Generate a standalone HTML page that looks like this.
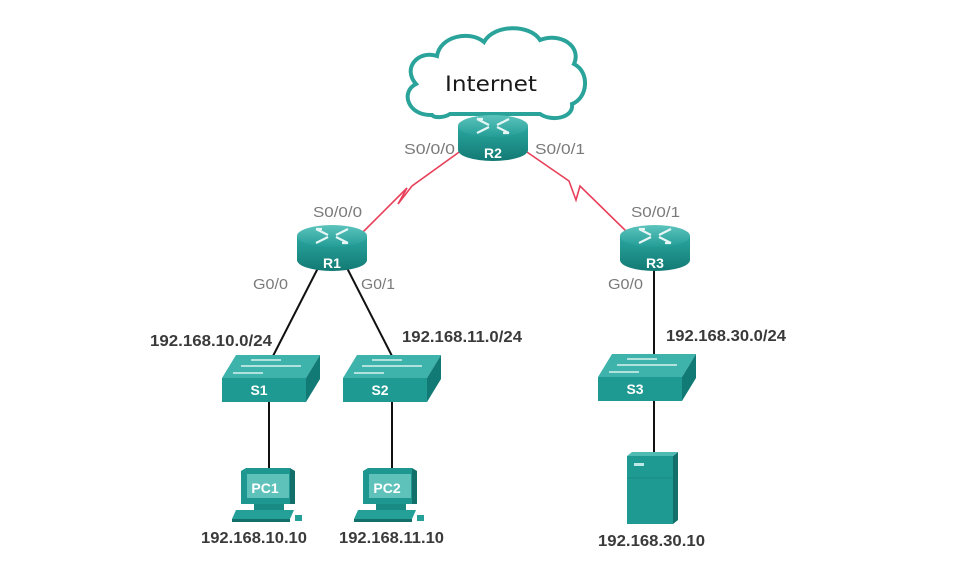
<!DOCTYPE html>
<html><head><meta charset="utf-8"><style>
html,body{margin:0;padding:0;background:#fff}
svg{display:block}
text{font-family:"Liberation Sans",sans-serif}
.g{fill:#7a7a7a;font-size:15px}
.b{fill:#3a3a3a;font-size:15.5px;font-weight:bold}
.w{fill:#fff;font-size:14px;font-weight:bold}
</style></head><body>
<svg width="975" height="563" viewBox="0 0 975 563" xmlns="http://www.w3.org/2000/svg">
<defs>
<linearGradient id="rt" x1="0" y1="0" x2="0" y2="1"><stop offset="0" stop-color="#2aa7a0"/><stop offset="1" stop-color="#137a74"/></linearGradient>
<linearGradient id="rtop" x1="0" y1="0" x2="0" y2="1"><stop offset="0" stop-color="#5cc4bd"/><stop offset="1" stop-color="#239d96"/></linearGradient>
<g id="router">
<path d="M-35,-12 L-35,12 A35,11 0 0 0 35,12 L35,-12 Z" fill="url(#rt)"/>
<ellipse cx="0" cy="-12" rx="35" ry="11" fill="url(#rtop)"/>
<g stroke="#e6f6f5" stroke-width="2.2" fill="none">
<path d="M-16,-19 L-4,-13 M-16,-19 l6,0 M16,-5 L4,-11 M16,-5 l-6,0 M-16,-5 L-4,-11 M16,-19 L4,-13"/>
</g>
</g>
<g id="switch">
<path d="M-49,0 L-35,-23 L49,-23 L35,0 Z" fill="#3db3ab"/>
<path d="M35,0 L49,-23 L49,1 L35,24 Z" fill="#127a74"/>
<rect x="-49" y="0" width="84" height="24" fill="#1f9a93"/>
<g stroke="#d8f2f0" stroke-width="1.6"><line x1="-20" y1="-18" x2="10" y2="-18"/><line x1="-30" y1="-12" x2="0" y2="-12"/><line x1="0" y1="-12" x2="30" y2="-12"/><line x1="-38" y1="-5" x2="-8" y2="-5"/></g>
</g>
<g id="pc">
<path d="M-27,0 L-22,-3 L22,-3 L22,33 L-27,33 Z" fill="#1e9790"/>
<path d="M22,-3 L27,0 L27,33 L22,33 Z" fill="#126f6a"/>
<rect x="-21" y="3" width="42" height="24" fill="#5ec2bb"/>
<rect x="-14" y="33" width="30" height="6" fill="#1a8a84"/>
<path d="M-32,39 L26,39 L22,48 L-36,48 Z" fill="#24a098"/>
<path d="M-36,48 L22,48 L22,51 L-36,51 Z" fill="#126f6a"/>
<rect x="27" y="44" width="7" height="6" fill="#24a098"/>
</g>
</defs>

<!-- cloud -->
<path d="M432,115 C408,116 400,92 416,84 C402,68 418,50 437,56 C440,36 470,30 484,42 C494,24 530,24 540,40 C560,32 582,46 574,64 C590,72 588,98 572,104 C574,118 552,122 540,114 L450,114 C444,118 434,118 432,115 Z" fill="#fff" stroke="#2aa39a" stroke-width="4"/>
<text x="445" y="91" font-size="21" fill="#1a1a1a" textLength="92" lengthAdjust="spacingAndGlyphs" style="font-family:'DejaVu Sans',sans-serif">Internet</text>

<!-- red serial links -->
<g stroke="#e8405a" stroke-width="1.6" fill="none">
<polyline points="462,150 412,186 398,204 407,188 363,232"/>
<polyline points="524,150 569,181 576,200 580,186 628,233"/>
</g>
<!-- black links -->
<g stroke="#111" stroke-width="2">
<line x1="318" y1="268" x2="273" y2="356"/>
<line x1="347" y1="268" x2="392" y2="356"/>
<line x1="269" y1="400" x2="269" y2="468"/>
<line x1="392" y1="400" x2="392" y2="468"/>
<line x1="654" y1="268" x2="654" y2="356"/>
<line x1="654" y1="400" x2="654" y2="456"/>
</g>

<use href="#router" x="493" y="138"/>
<text class="w" x="493" y="158" text-anchor="middle">R2</text>
<use href="#router" x="332" y="248"/>
<text class="w" x="332" y="268" text-anchor="middle">R1</text>
<use href="#router" x="655" y="248"/>
<text class="w" x="655" y="268" text-anchor="middle">R3</text>

<use href="#switch" x="271" y="378"/>
<text class="w" x="259" y="395" text-anchor="middle">S1</text>
<use href="#switch" x="392" y="378"/>
<text class="w" x="380" y="395" text-anchor="middle">S2</text>
<use href="#switch" x="647" y="377"/>
<text class="w" x="635" y="394" text-anchor="middle">S3</text>

<use href="#pc" x="268" y="471"/>
<text class="w" x="265" y="493" text-anchor="middle" font-size="15">PC1</text>
<use href="#pc" x="390" y="471"/>
<text class="w" x="387" y="493" text-anchor="middle" font-size="15">PC2</text>

<!-- server -->
<rect x="627" y="456" width="46" height="68" fill="#1f9a93"/>
<path d="M673,456 L678,452 L678,520 L673,524 Z" fill="#126f6a"/>
<path d="M627,456 L632,452 L678,452 L673,456 Z" fill="#4fbcb4"/>
<rect x="634" y="463" width="10" height="3" fill="#bfe9e6"/>
<line x1="627" y1="478" x2="673" y2="478" stroke="#178a83"/>

<g lengthAdjust="spacingAndGlyphs">
<text class="g" x="404" y="154" textLength="51" lengthAdjust="spacingAndGlyphs">S0/0/0</text>
<text class="g" x="535" y="154" textLength="50" lengthAdjust="spacingAndGlyphs">S0/0/1</text>
<text class="g" x="313" y="217" textLength="49" lengthAdjust="spacingAndGlyphs">S0/0/0</text>
<text class="g" x="631" y="217" textLength="49" lengthAdjust="spacingAndGlyphs">S0/0/1</text>
<text class="g" x="253" y="289" textLength="35" lengthAdjust="spacingAndGlyphs">G0/0</text>
<text class="g" x="361" y="289" textLength="34" lengthAdjust="spacingAndGlyphs">G0/1</text>
<text class="g" x="608" y="289" textLength="35" lengthAdjust="spacingAndGlyphs">G0/0</text>
<text class="b" x="150" y="346" textLength="122" lengthAdjust="spacingAndGlyphs">192.168.10.0/24</text>
<text class="b" x="402" y="342" textLength="120" lengthAdjust="spacingAndGlyphs">192.168.11.0/24</text>
<text class="b" x="666" y="341" textLength="120" lengthAdjust="spacingAndGlyphs">192.168.30.0/24</text>
<text class="b" x="201" y="543" textLength="106" lengthAdjust="spacingAndGlyphs">192.168.10.10</text>
<text class="b" x="339" y="543" textLength="105" lengthAdjust="spacingAndGlyphs">192.168.11.10</text>
<text class="b" x="598" y="546" textLength="107" lengthAdjust="spacingAndGlyphs">192.168.30.10</text>
</g>
</svg>
</body></html>
